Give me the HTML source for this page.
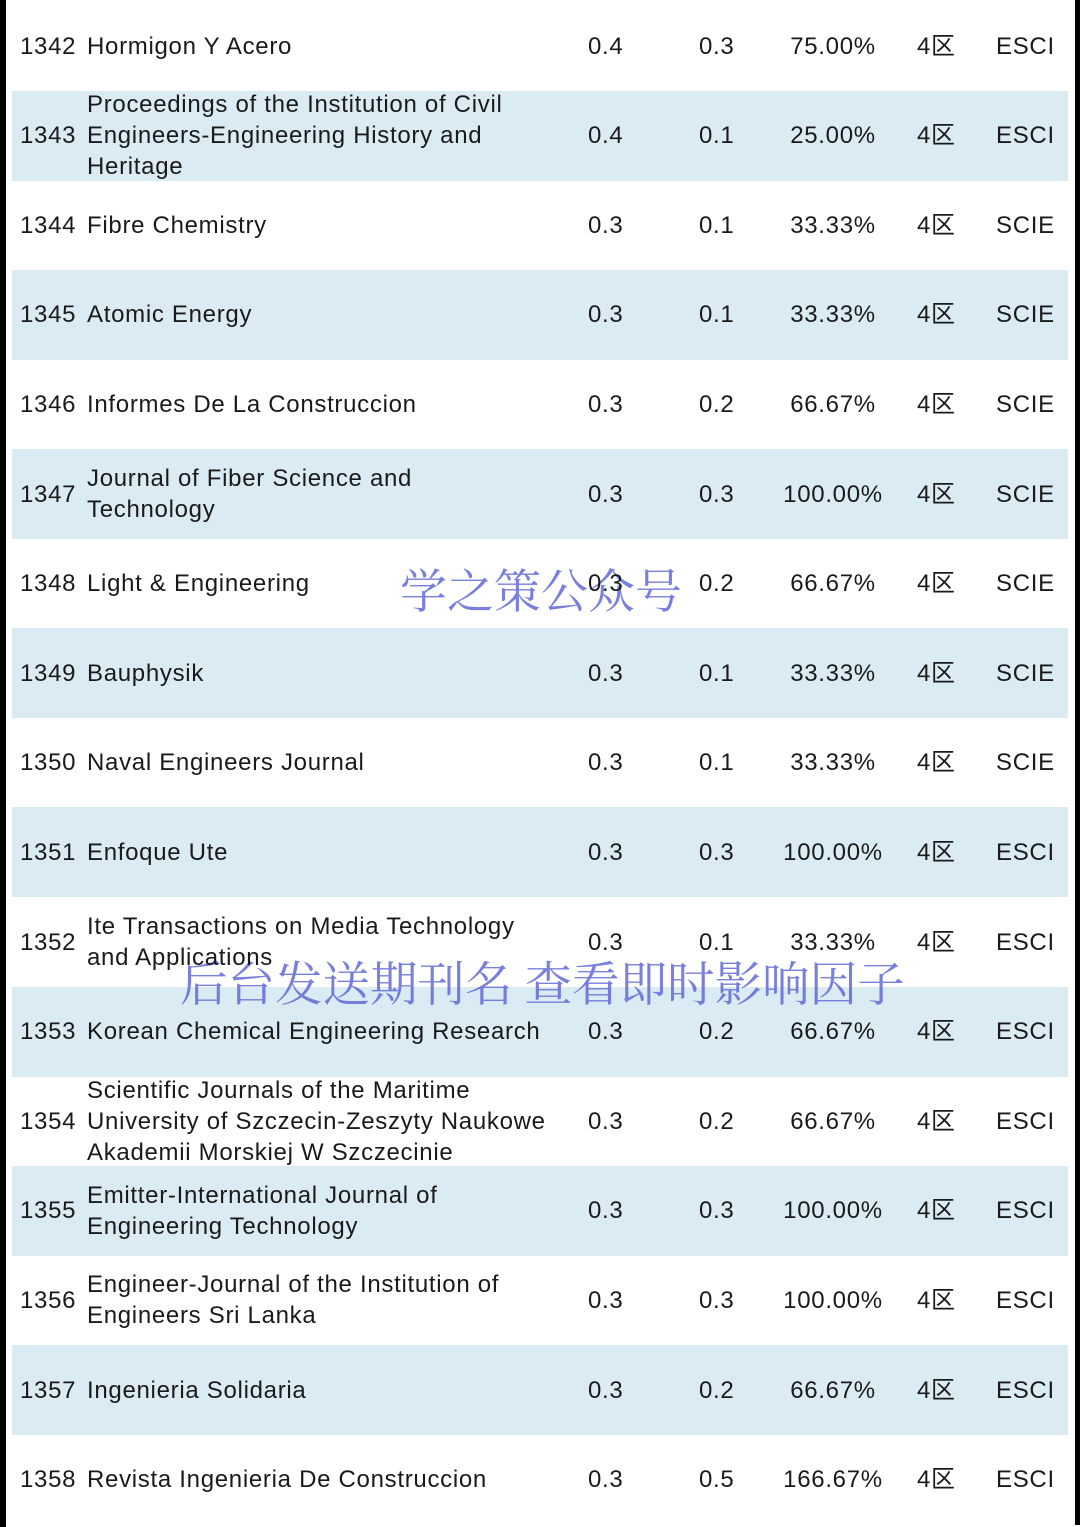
<!DOCTYPE html>
<html><head><meta charset="utf-8">
<style>
html,body{margin:0;padding:0;background:#fff;}
body{width:1080px;height:1527px;position:relative;overflow:hidden;font-family:"Liberation Sans","Noto Sans CJK SC",sans-serif;color:#1a1a1a;}
.bar-l{position:absolute;left:0;top:0;width:6px;height:1527px;background:#000;}
.bar-r{position:absolute;left:1075px;top:0;width:5px;height:1525px;background:#000;}
.row{position:absolute;left:12px;width:1056px;height:90px;}
.row.blue{background:#dbebf3;}
.c{position:absolute;font-size:24px;line-height:31px;white-space:nowrap;letter-spacing:0.7px;}
.wm{position:absolute;font-family:"Noto Serif CJK SC","WenQuanYi Zen Hei",serif;color:rgba(96,104,214,0.85);white-space:nowrap;}
</style></head>
<body>
<div class="bar-l"></div>
<div class="bar-r"></div>
<div id="wm1" class="wm" style="left:400px;top:555px;font-size:47px;">学之策公众号</div>
<div id="wm2" class="wm" style="left:180px;top:946px;font-size:47.5px;">后台发送期刊名 查看即时影响因子</div>
<div id="rows"></div>
<script>
const ids=[1342,1343,1344,1345,1346,1347,1348,1349,1350,1351,1352,1353,1354,1355,1356,1357,1358];
const titles=[["Hormigon Y Acero"],["Proceedings of the Institution of Civil","Engineers-Engineering History and","Heritage"],["Fibre Chemistry"],["Atomic Energy"],["Informes De La Construccion"],["Journal of Fiber Science and","Technology"],["Light & Engineering"],["Bauphysik"],["Naval Engineers Journal"],["Enfoque Ute"],["Ite Transactions on Media Technology","and Applications"],["Korean Chemical Engineering Research"],["Scientific Journals of the Maritime","University of Szczecin-Zeszyty Naukowe","Akademii Morskiej W Szczecinie"],["Emitter-International Journal of","Engineering Technology"],["Engineer-Journal of the Institution of","Engineers Sri Lanka"],["Ingenieria Solidaria"],["Revista Ingenieria De Construccion"]];
const col1=["0.4","0.4","0.3","0.3","0.3","0.3","0.3","0.3","0.3","0.3","0.3","0.3","0.3","0.3","0.3","0.3","0.3"];
const col2=["0.3","0.1","0.1","0.1","0.2","0.3","0.2","0.1","0.1","0.3","0.1","0.2","0.2","0.3","0.3","0.2","0.5"];
const pct=["75.00%","25.00%","33.33%","33.33%","66.67%","100.00%","66.67%","33.33%","33.33%","100.00%","33.33%","66.67%","66.67%","100.00%","100.00%","66.67%","166.67%"];
const zone=["4区","4区","4区","4区","4区","4区","4区","4区","4区","4区","4区","4区","4区","4区","4区","4区","4区"];
const idx=["ESCI","ESCI","SCIE","SCIE","SCIE","SCIE","SCIE","SCIE","SCIE","ESCI","ESCI","ESCI","ESCI","ESCI","ESCI","ESCI","ESCI"];
const host=document.getElementById('rows');
const wm1=document.getElementById('wm1');
function cell(row,text,left,cy,name,center){
  const d=document.createElement('div');
  d.className='c';
  
  
  d.innerHTML=text;
  d.style.top=(cy-15.5)+'px';
  if(center){d.style.left=(left-60)+'px';d.style.width='120px';d.style.textAlign='center';}
  else d.style.left=left+'px';
  row.appendChild(d);
}
ids.forEach((id,i)=>{
  const cy=46+89.6*i;
  const r=document.createElement('div');
  r.className='row'+(i%2===1?' blue':'');
  
  
  r.style.top=(cy-45)+'px';
  document.body.insertBefore(r,wm1);
  const t=document.createElement('div');
  t.style.cssText='position:absolute;left:0;top:0;width:1080px;height:1527px;';
  
  
  host.appendChild(t);
  cell(t,String(id),20,cy,'row-number',false);
  const tl=titles[i];
  const ty=cy-(tl.length-1)*15.5;
  const td=document.createElement('div');
  td.className='c';
  
  
  td.innerHTML=tl.map(s=>s.replace(/&/g,'&amp;')).join('<br>');
  td.style.left='87px';
  td.style.top=(ty-15.5)+'px';
  t.appendChild(td);
  cell(t,col1[i],588,cy,'impact-factor',false);
  cell(t,col2[i],699,cy,'prior-value',false);
  cell(t,pct[i],833,cy,'growth-percent',true);
  cell(t,zone[i],917,cy,'zone',false);
  cell(t,idx[i],996,cy,'index-type',false);
});
</script>
</body></html>
